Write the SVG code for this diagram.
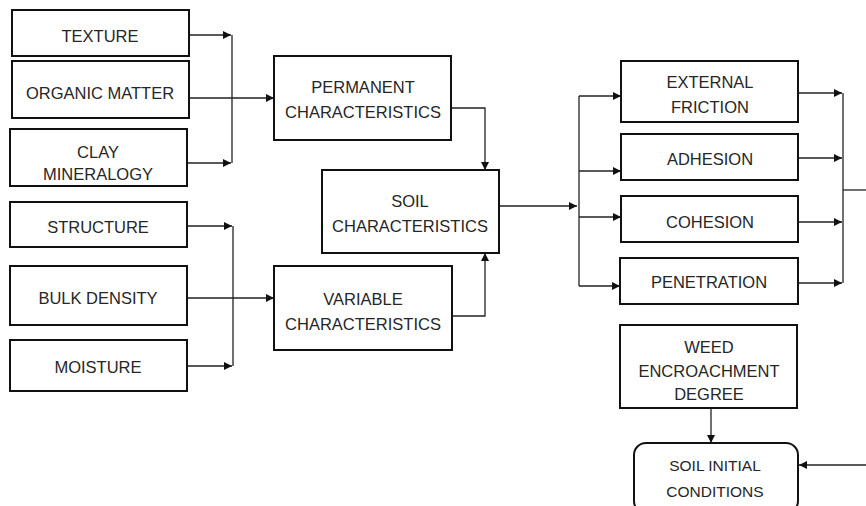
<svg xmlns="http://www.w3.org/2000/svg" width="866" height="506" viewBox="0 0 866 506">
<style>
.box{fill:#fff;stroke:#111;stroke-width:2}
.t{font-family:"Liberation Sans",Arial,sans-serif;font-size:16.5px;fill:#262626;text-anchor:middle}
.ts{font-size:15.5px}
.c{fill:none;stroke:#222;stroke-width:1.3}
</style>
<defs>
<marker id="ah" viewBox="0 0 10 10" refX="10" refY="5" markerWidth="8" markerHeight="8" markerUnits="userSpaceOnUse" orient="auto">
<path d="M0,0 L10,5 L0,10 Z" fill="#111"/>
</marker>
</defs>
<rect width="866" height="506" fill="#fff"/>
<g id="connectors">
<line class="c" x1="189" y1="35" x2="231" y2="35" marker-end="url(#ah)"/>
<line class="c" x1="187" y1="163" x2="231" y2="163" marker-end="url(#ah)"/>
<line class="c" x1="232" y1="35" x2="232" y2="163"/>
<line class="c" x1="189" y1="98" x2="274" y2="98" marker-end="url(#ah)"/>
<line class="c" x1="187" y1="226" x2="232" y2="226" marker-end="url(#ah)"/>
<line class="c" x1="187" y1="366" x2="232" y2="366" marker-end="url(#ah)"/>
<line class="c" x1="233" y1="226" x2="233" y2="366"/>
<line class="c" x1="187" y1="298" x2="274" y2="298" marker-end="url(#ah)"/>
<polyline class="c" points="451,108 485,108 485,170" marker-end="url(#ah)"/>
<polyline class="c" points="452,316 485,316 485,253" marker-end="url(#ah)"/>
<line class="c" x1="499" y1="206" x2="577" y2="206" marker-end="url(#ah)"/>
<line class="c" x1="579" y1="96" x2="579" y2="286"/>
<line class="c" x1="579" y1="96" x2="621" y2="96" marker-end="url(#ah)"/>
<line class="c" x1="579" y1="171" x2="621" y2="171" marker-end="url(#ah)"/>
<line class="c" x1="579" y1="217" x2="621" y2="217" marker-end="url(#ah)"/>
<line class="c" x1="579" y1="286" x2="620" y2="286" marker-end="url(#ah)"/>
<line class="c" x1="798" y1="93" x2="842" y2="93" marker-end="url(#ah)"/>
<line class="c" x1="798" y1="158" x2="842" y2="158" marker-end="url(#ah)"/>
<line class="c" x1="798" y1="222" x2="842" y2="222" marker-end="url(#ah)"/>
<line class="c" x1="798" y1="283" x2="842" y2="283" marker-end="url(#ah)"/>
<line class="c" x1="843" y1="93" x2="843" y2="283"/>
<line class="c" x1="843" y1="190" x2="866" y2="190"/>
<line class="c" x1="711" y1="408" x2="711" y2="443" marker-end="url(#ah)"/>
<line class="c" x1="866" y1="465" x2="799" y2="465" marker-end="url(#ah)"/>
</g>
<g id="texture"><rect class="box" x="12" y="10" width="177" height="46"/><text class="t" x="100" y="42">TEXTURE</text></g>
<g id="organic-matter"><rect class="box" x="12" y="61" width="177" height="57"/><text class="t" x="100" y="99">ORGANIC MATTER</text></g>
<g id="clay-mineralogy"><rect class="box" x="10" y="129" width="177" height="57"/><text class="t" x="98" y="158">CLAY</text><text class="t" x="98" y="180">MINERALOGY</text></g>
<g id="structure"><rect class="box" x="10" y="202" width="177" height="45"/><text class="t" x="98" y="233">STRUCTURE</text></g>
<g id="bulk-density"><rect class="box" x="10" y="266" width="177" height="59"/><text class="t" x="98" y="304">BULK DENSITY</text></g>
<g id="moisture"><rect class="box" x="10" y="340" width="177" height="51"/><text class="t" x="98" y="373">MOISTURE</text></g>
<g id="permanent"><rect class="box" x="274" y="56" width="177" height="84"/><text class="t" x="363" y="93">PERMANENT</text><text class="t" x="363" y="118">CHARACTERISTICS</text></g>
<g id="soil-characteristics"><rect class="box" x="322" y="170" width="177" height="83"/><text class="t" x="410" y="207">SOIL</text><text class="t" x="410" y="232">CHARACTERISTICS</text></g>
<g id="variable"><rect class="box" x="274" y="266" width="178" height="84"/><text class="t" x="363" y="305">VARIABLE</text><text class="t" x="363" y="330">CHARACTERISTICS</text></g>
<g id="external-friction"><rect class="box" x="621" y="61" width="177" height="61"/><text class="t" x="710" y="88">EXTERNAL</text><text class="t" x="710" y="113">FRICTION</text></g>
<g id="adhesion"><rect class="box" x="621" y="134" width="177" height="46"/><text class="t" x="710" y="165">ADHESION</text></g>
<g id="cohesion"><rect class="box" x="621" y="196" width="177" height="46"/><text class="t" x="710" y="228">COHESION</text></g>
<g id="penetration"><rect class="box" x="620" y="258" width="178" height="46"/><text class="t" x="709" y="288">PENETRATION</text></g>
<g id="weed"><rect class="box" x="620" y="325" width="177" height="83"/><text class="t" x="709" y="353">WEED</text><text class="t" x="709" y="377">ENCROACHMENT</text><text class="t" x="709" y="400">DEGREE</text></g>
<g id="soil-initial"><rect class="box" x="634" y="443" width="164" height="70" rx="12"/><text class="t ts" x="715" y="471">SOIL INITIAL</text><text class="t ts" x="715" y="497">CONDITIONS</text></g>
</svg>
